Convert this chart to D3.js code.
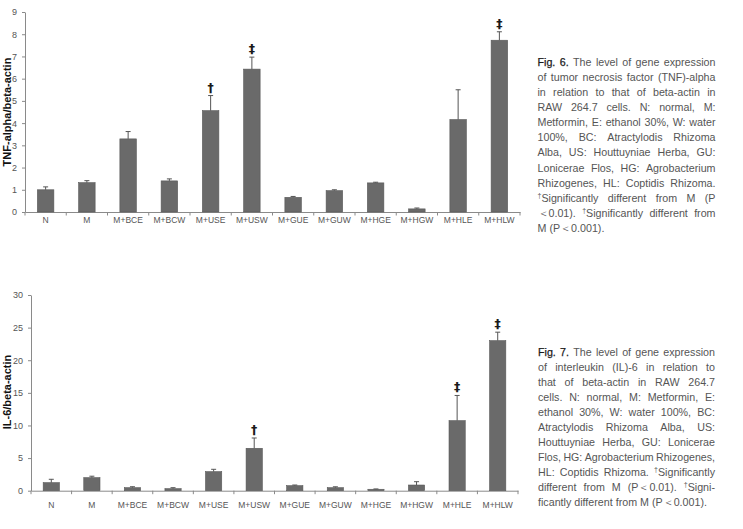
<!DOCTYPE html>
<html>
<head>
<meta charset="utf-8">
<script src="https://cdn.jsdelivr.net/npm/d3@7"></script>
<style>
  html, body { margin: 0; padding: 0; background: #fff; }
  svg { display: block; }
</style>
</head>
<body>
<svg id="chart" width="743" height="529"></svg>
<script>
// ---------- DATA ----------
const categories = ["N","M","M+BCE","M+BCW","M+USE","M+USW","M+GUE","M+GUW","M+HGE","M+HGW","M+HLE","M+HLW"];

const tnfValues = [1.00, 1.32, 3.29, 1.40, 4.56, 6.43, 0.66, 0.96, 1.31, 0.14, 4.16, 7.73];
const tnfErrors = [0.13, 0.09, 0.33, 0.09, 0.68, 0.54, 0.04, 0.04, 0.03, 0.04, 1.34, 0.38];
const tnfMarks  = ["", "", "", "", "†", "‡", "", "", "", "", "", "‡"];
const tnfTicks  = [0,1,2,3,4,5,6,7,8,9];

const il6Values = [1.23, 2.00, 0.46, 0.31, 2.92, 6.50, 0.77, 0.46, 0.22, 0.87, 10.74, 23.00];
const il6Errors = [0.52, 0.22, 0.15, 0.15, 0.36, 1.58, 0.10, 0.14, 0.05, 0.51, 3.86, 1.30];
const il6Marks  = ["", "", "", "", "", "†", "", "", "", "", "‡", "‡"];
const il6Ticks  = [0,5,10,15,20,25,30];

const caption6 = [
  "*Fig. *6. The level of gene expression",
  "of tumor necrosis factor (TNF)-alpha",
  "in relation to that of beta-actin in",
  "RAW 264.7 cells. N: normal, M:",
  "Metformin, E: ethanol 30%, W: water",
  "100%, BC: Atractylodis Rhizoma",
  "Alba, US: Houttuyniae Herba, GU:",
  "Lonicerae Flos, HG: Agrobacterium",
  "Rhizogenes, HL: Coptidis Rhizoma.",
  "^Significantly different from M (P",
  "＜0.01). ^Significantly different from",
  "M (P＜0.001)."
];
const caption7 = [
  "*Fig. *7. The level of gene expression",
  "of interleukin (IL)-6 in relation to",
  "that of beta-actin in RAW 264.7",
  "cells. N: normal, M: Metformin, E:",
  "ethanol 30%, W: water 100%, BC:",
  "Atractylodis Rhizoma Alba, US:",
  "Houttuyniae Herba, GU: Lonicerae",
  "Flos, HG: Agrobacterium Rhizogenes,",
  "HL: Coptidis Rhizoma. ^Significantly",
  "different from M (P＜0.01). ^Signi-",
  "ficantly different from M (P＜0.001)."
];

// ---------- DRAW ----------
const svg = d3.select("#chart");
const barFill = "#6a6a6a";
const axisColor = "#8a8a8a";

function drawChart(o) {
  const g = svg.append("g");
  const x = d3.scaleBand().domain(categories).range([o.x0, o.x1]).paddingInner(0.6).paddingOuter(0.3);
  const y = d3.scaleLinear().domain([0, o.max]).range([o.yBase, o.yTop]);
  const bw = x.bandwidth();
  const step = x.step();

  // y axis
  const ya = g.append("g").attr("transform", `translate(${o.x0},0)`)
    .call(d3.axisLeft(y).tickValues(o.ticks).tickSize(3).tickSizeOuter(0).tickPadding(5));
  ya.select(".domain").attr("stroke", axisColor);
  ya.selectAll(".tick line").attr("stroke", axisColor);
  ya.selectAll(".tick text").attr("fill", "#555").attr("font-size", 9)
    .attr("font-family", "'Liberation Sans', Arial, sans-serif");

  // x axis (labels via axis, boundary ticks drawn from scale step)
  const xa = g.append("g").attr("transform", `translate(0,${o.yBase})`)
    .call(d3.axisBottom(x).tickSize(0).tickSizeOuter(0).tickPadding(o.labelPad));
  xa.select(".domain").attr("stroke", axisColor);
  xa.selectAll(".tick text").attr("fill", "#555").attr("font-size", 8.5)
    .attr("font-family", "'Liberation Sans Narrow', 'Arial Narrow', 'Liberation Sans', sans-serif");
  const bounds = d3.range(categories.length + 1).map(i => o.x0 + i * step);
  g.selectAll(".btick").data(bounds).enter().append("line")
    .attr("x1", d => d).attr("x2", d => d)
    .attr("y1", o.yBase).attr("y2", o.yBase + 3.5)
    .attr("stroke", axisColor);

  // bars
  g.selectAll(".bar").data(o.values).enter().append("rect")
    .attr("x", (d, i) => x(categories[i]))
    .attr("y", d => y(d))
    .attr("width", bw)
    .attr("height", d => y(0) - y(d))
    .attr("fill", barFill)
    .attr("stroke", "#585858").attr("stroke-width", 0.6);

  // error bars
  o.values.forEach((v, i) => {
    const cx = x(categories[i]) + bw / 2;
    const top = y(v + o.errs[i]);
    g.append("line").attr("x1", cx).attr("x2", cx).attr("y1", y(v)).attr("y2", top)
      .attr("stroke", "#555").attr("stroke-width", 1);
    g.append("line").attr("x1", cx - 2.5).attr("x2", cx + 2.5).attr("y1", top).attr("y2", top)
      .attr("stroke", "#555").attr("stroke-width", 1);
    if (o.marks[i]) {
      g.append("text").attr("x", cx).attr("y", top - 4)
        .attr("text-anchor", "middle")
        .attr("font-family", "'DejaVu Sans', sans-serif")
        .attr("font-weight", "bold").attr("font-size", 12.5)
        .attr("fill", "#1a1a1a").text(o.marks[i]);
    }
  });

  // y title
  g.append("text")
    .attr("transform", `translate(11,${o.labelY}) rotate(-90)`)
    .attr("text-anchor", "middle")
    .attr("font-family", "'Liberation Sans', Arial, sans-serif")
    .attr("font-weight", "bold").attr("font-size", 11)
    .attr("fill", "#111").text(o.label);
}

drawChart({ values: tnfValues, errs: tnfErrors, marks: tnfMarks, ticks: tnfTicks, max: 9,
  x0: 25, x1: 520, yBase: 212, yTop: 12, labelPad: 5, labelY: 112, label: "TNF-alpha/beta-actin" });
drawChart({ values: il6Values, errs: il6Errors, marks: il6Marks, ticks: il6Ticks, max: 30,
  x0: 31, x1: 518, yBase: 490.7, yTop: 295, labelPad: 11.5, labelY: 392, label: "IL-6/beta-actin" });

// ---------- CAPTIONS (justified) ----------
function caption(lines, x, y0, lh, width) {
  const g = svg.append("g")
    .attr("font-family", "'Liberation Sans', Arial, sans-serif")
    .attr("font-size", 10.7).attr("fill", "#555");
  lines.forEach((line, li) => {
    const words = line.split(" ");
    const nodes = words.map(w => {
      const t = g.append("text").attr("y", y0 + li * lh);
      if (w.startsWith("*")) {
        t.attr("fill", "#1a1a1a").attr("stroke", "#1a1a1a").attr("stroke-width", 0.25).text(w.slice(1));
      } else if (w.startsWith("^")) {
        t.append("tspan").attr("font-size", 7).attr("dy", -4).text("†");
        t.append("tspan").attr("dy", 4).text(w.slice(1));
      } else {
        t.text(w);
      }
      return { t, w: t.node().getComputedTextLength() };
    });
    const total = d3.sum(nodes, n => n.w);
    const isLast = li === lines.length - 1;
    let gap = (isLast || nodes.length < 2) ? 3.0 : (width - total) / (nodes.length - 1);
    let f = 1;
    if (!isLast && nodes.length > 1 && gap < 2.4) {
      gap = 2.4;
      f = (width - gap * (nodes.length - 1)) / total;
      nodes.forEach(n => {
        n.w = n.w * f;
        n.t.attr("textLength", n.w).attr("lengthAdjust", "spacingAndGlyphs");
      });
    }
    let cx = x;
    nodes.forEach(n => { n.t.attr("x", cx); cx += n.w + gap; });
  });
}
caption(caption6, 537.5, 65.5, 15.15, 178);
caption(caption7, 538, 355.5, 15, 177);
</script>
</body>
</html>
